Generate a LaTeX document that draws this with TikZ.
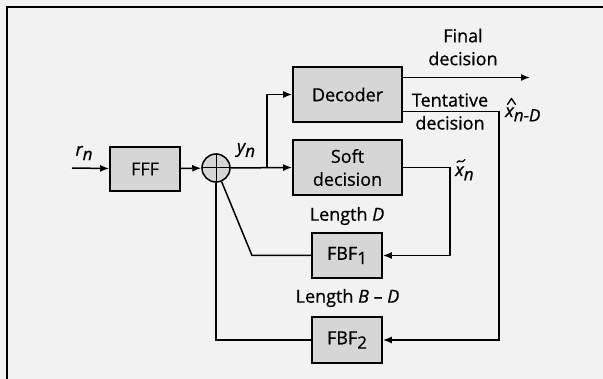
\documentclass[tikz,border=0pt]{standalone}
\usepackage{fontspec}
\setmainfont{Open Sans}[FakeBold=0.7]
\usetikzlibrary{arrows.meta,calc}
\definecolor{bggray}{HTML}{F2F2F2}
\definecolor{boxgray}{HTML}{D6D6D6}
\newcommand{\fs}{\fontsize{18}{23}\selectfont}
\newcommand{\lowsub}[1]{\raisebox{-0.45ex}{\fontsize{17}{17}\selectfont #1}}
\begin{document}
\begin{tikzpicture}[x=1pt,y=-1pt,
  blk/.style={draw=black, line width=1.7pt, fill=boxgray, inner sep=0pt, font=\fs, align=center},
  wire/.style={line width=1.5pt},
  arr/.style={wire, -{Latex[length=9pt,width=7pt]}},
  lbl/.style={inner sep=0pt, font=\fs, align=center},
  acc/.style={line width=1.3pt, line cap=round, line join=round}]
\useasboundingbox (0,0) rectangle (603,379);
\fill[bggray] (0,0) rectangle (603,379);
\draw[line width=1.6pt] (7,379) -- (7,7) -- (603,7);

% blocks
\node[blk, minimum width=70pt, minimum height=44pt] (fff) at (145,169) {FFF};
\node[circle, draw=black, fill=boxgray, line width=1.5pt, minimum size=28pt, inner sep=0pt] (sum) at (216,168) {};
\draw[line width=1pt] (sum.north) -- (sum.south) (sum.west) -- (sum.east);
\node[blk, minimum width=109pt, minimum height=55pt] (dec) at (347.5,94.5) {Decoder};
\node[blk, minimum width=109pt, minimum height=55pt] (soft) at (347.5,167.5) {Soft\\decision};
\node[blk, minimum width=70pt, minimum height=45pt] (f1) at (347,255.5) {FBF\lowsub{1}};
\node[blk, minimum width=70pt, minimum height=46pt] (f2) at (347,340) {FBF\lowsub{2}};

% coordinates
\coordinate (in) at (72,168);
\coordinate (br) at (267,168);
\coordinate (brtop) at (267,94.5);
\coordinate (fin) at (530,77.5);
\coordinate (tcor) at (499,111.5);
\coordinate (tbot) at (499,340);
\coordinate (scor) at (450,167.5);
\coordinate (sbot) at (450,255.5);
\coordinate (f1l) at (252,255.5);
\coordinate (f2l) at (216,340);

% connectors
\draw[arr] (in) -- (fff);
\draw[arr] (fff) -- (sum);
\draw[arr] (sum.east) -- (soft.west);
\draw[arr] (br) -- (brtop) -- (dec.west);
\draw[arr] ([yshift=17pt]dec.east) -- (fin);
\draw[arr] ([yshift=-17pt]dec.east) -- (tcor) -- (tbot) -- (f2.east);
\draw[arr] (soft.east) -- (scor) -- (sbot) -- (f1.east);
\draw[wire] (f1.west) -- (f1l) -- (sum);
\draw[wire] (f2.west) -- (f2l) -- (sum.south);

% labels
\node[lbl] (rn) at (84,153) {\textit{r\lowsub{n}}};
\node[lbl] (yn) at (246,150) {\textit{y\lowsub{n}}};
\node[lbl] (final) at (463,47) {Final\\decision};
\node[lbl] (tent) at (450,111.5) {Tentative\\decision};
\node[lbl, anchor=base west] (xhat) at (505,117) {\textit{x\lowsub{n-D}}};
\draw[acc] (507.5,104.5) -- (511.5,98.5) -- (515.5,104.5);
\node[lbl, anchor=base west] (xtil) at (455,176) {\textit{x\lowsub{n}}};
\draw[acc] (457,162.5) .. controls (459,158) and (462,165) .. (465,159.5);
\node[lbl] (lenD) at (347,216) {Length \textit{D}};
\node[lbl] (lenBD) at (347.5,298) {Length \textit{B} – \textit{D}};
\end{tikzpicture}
\end{document}
